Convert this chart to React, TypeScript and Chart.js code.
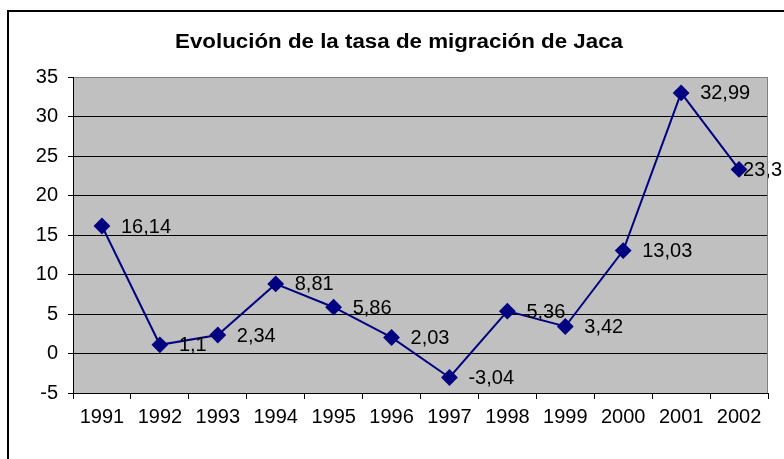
import React, { useEffect, useRef } from "react";
import { Chart, registerables } from "chart.js";

Chart.register(...registerables);

const TITLE = "Evolución de la tasa de migración de Jaca";
const YEARS = ["1991", "1992", "1993", "1994", "1995", "1996", "1997", "1998", "1999", "2000", "2001", "2002"];
const RATES = [16.14, 1.1, 2.34, 8.81, 5.86, 2.03, -3.04, 5.36, 3.42, 13.03, 32.99, 23.3];
const Y_MIN = -5;
const Y_MAX = 35;
const Y_STEP = 5;

const FONT = "'Liberation Sans', Arial, sans-serif";

const fmt = (v: number) => String(v).replace(".", ",");

const framePlugin = {
  id: "frame",
  beforeDraw(chart: any) {
    const { ctx, chartArea } = chart;
    ctx.save();
    ctx.fillStyle = "#ffffff";
    ctx.fillRect(0, 0, chart.width, chart.height);
    ctx.strokeStyle = "#000000";
    ctx.lineWidth = 2;
    ctx.strokeRect(8, 11, chart.width + 40, chart.height + 40);
    ctx.fillStyle = "#C0C0C0";
    ctx.fillRect(chartArea.left, chartArea.top, chartArea.right - chartArea.left, chartArea.bottom - chartArea.top);
    ctx.restore();
  },
  afterDraw(chart: any) {
    const { ctx, chartArea } = chart;
    ctx.save();
    ctx.strokeStyle = "#808080";
    ctx.lineWidth = 1;
    ctx.beginPath();
    ctx.moveTo(chartArea.right - 0.5, chartArea.top);
    ctx.lineTo(chartArea.right - 0.5, chartArea.bottom);
    ctx.stroke();
    // title
    ctx.fillStyle = "#000";
    ctx.font = `bold 20px ${FONT}`;
    ctx.textBaseline = "alphabetic";
    ctx.textAlign = "left";
    const w = ctx.measureText(TITLE).width;
    const target = 448;
    const sx = target / w;
    ctx.translate(175, 48);
    ctx.scale(sx, 1);
    ctx.fillText(TITLE, 0, 0);
    ctx.restore();
  },
};

const labelPlugin = {
  id: "pointLabels",
  afterDatasetsDraw(chart: any) {
    const { ctx } = chart;
    const meta = chart.getDatasetMeta(0);
    ctx.save();
    ctx.font = `20px ${FONT}`;
    ctx.fillStyle = "#000";
    ctx.textBaseline = "middle";
    ctx.textAlign = "left";
    meta.data.forEach((pt: any, i: number) => {
      const text = fmt(RATES[i]);
      const tw = ctx.measureText(text).width;
      const x = Math.min(pt.x + 19, chart.width - tw - 2);
      ctx.fillText(text, x, pt.y + 1);
    });
    ctx.restore();
  },
};

export default function App() {
  const ref = useRef<HTMLCanvasElement>(null);
  useEffect(() => {
    if (!ref.current) return;
    const chart = new Chart(ref.current, {
      type: "line",
      data: {
        labels: YEARS,
        datasets: [
          {
            data: RATES,
            borderColor: "#000080",
            backgroundColor: "#000080",
            borderWidth: 2,
            pointStyle: "rectRot",
            pointRadius: 7,
            pointHoverRadius: 7,
            pointBackgroundColor: "#000080",
            pointBorderColor: "#000080",
            tension: 0,
          },
        ],
      },
      options: {
        responsive: false,
        animation: false,
        layout: { padding: { top: 77, right: 16, left: 0, bottom: 0 } },
        plugins: {
          legend: { display: false },
          title: { display: false },
          tooltip: { enabled: false },
        },
        scales: {
          x: {
            offset: true,
            afterFit: (s: any) => {
              s.height = 66;
            },
            grid: {
              offset: true,
              drawOnChartArea: false,
              drawTicks: true,
              tickLength: 6,
              tickColor: "#000",
              color: "#000",
            },
            border: { display: true, color: "#000", width: 1 },
            ticks: {
              color: "#000",
              font: { family: FONT, size: 20 },
              padding: 6,
              maxRotation: 0,
              autoSkip: false,
            },
          },
          y: {
            min: Y_MIN,
            max: Y_MAX,
            afterFit: (s: any) => {
              s.width = 73;
            },
            grid: {
              color: (c: any) => (c.tick && c.tick.value === Y_MAX ? "#808080" : "#000000"),
              tickColor: "#000",
              tickLength: 5,
              lineWidth: 1,
            },
            border: { display: true, color: "#000", width: 1 },
            ticks: {
              stepSize: Y_STEP,
              color: "#000",
              font: { family: FONT, size: 20 },
              padding: 10,
            },
          },
        },
      },
      plugins: [framePlugin, labelPlugin],
    });
    return () => chart.destroy();
  }, []);
  return (
    <div style={{ position: "fixed", left: 0, top: 0, width: 784, height: 459 }}>
      <canvas ref={ref} width={784} height={459} style={{ display: "block" }} />
    </div>
  );
}
